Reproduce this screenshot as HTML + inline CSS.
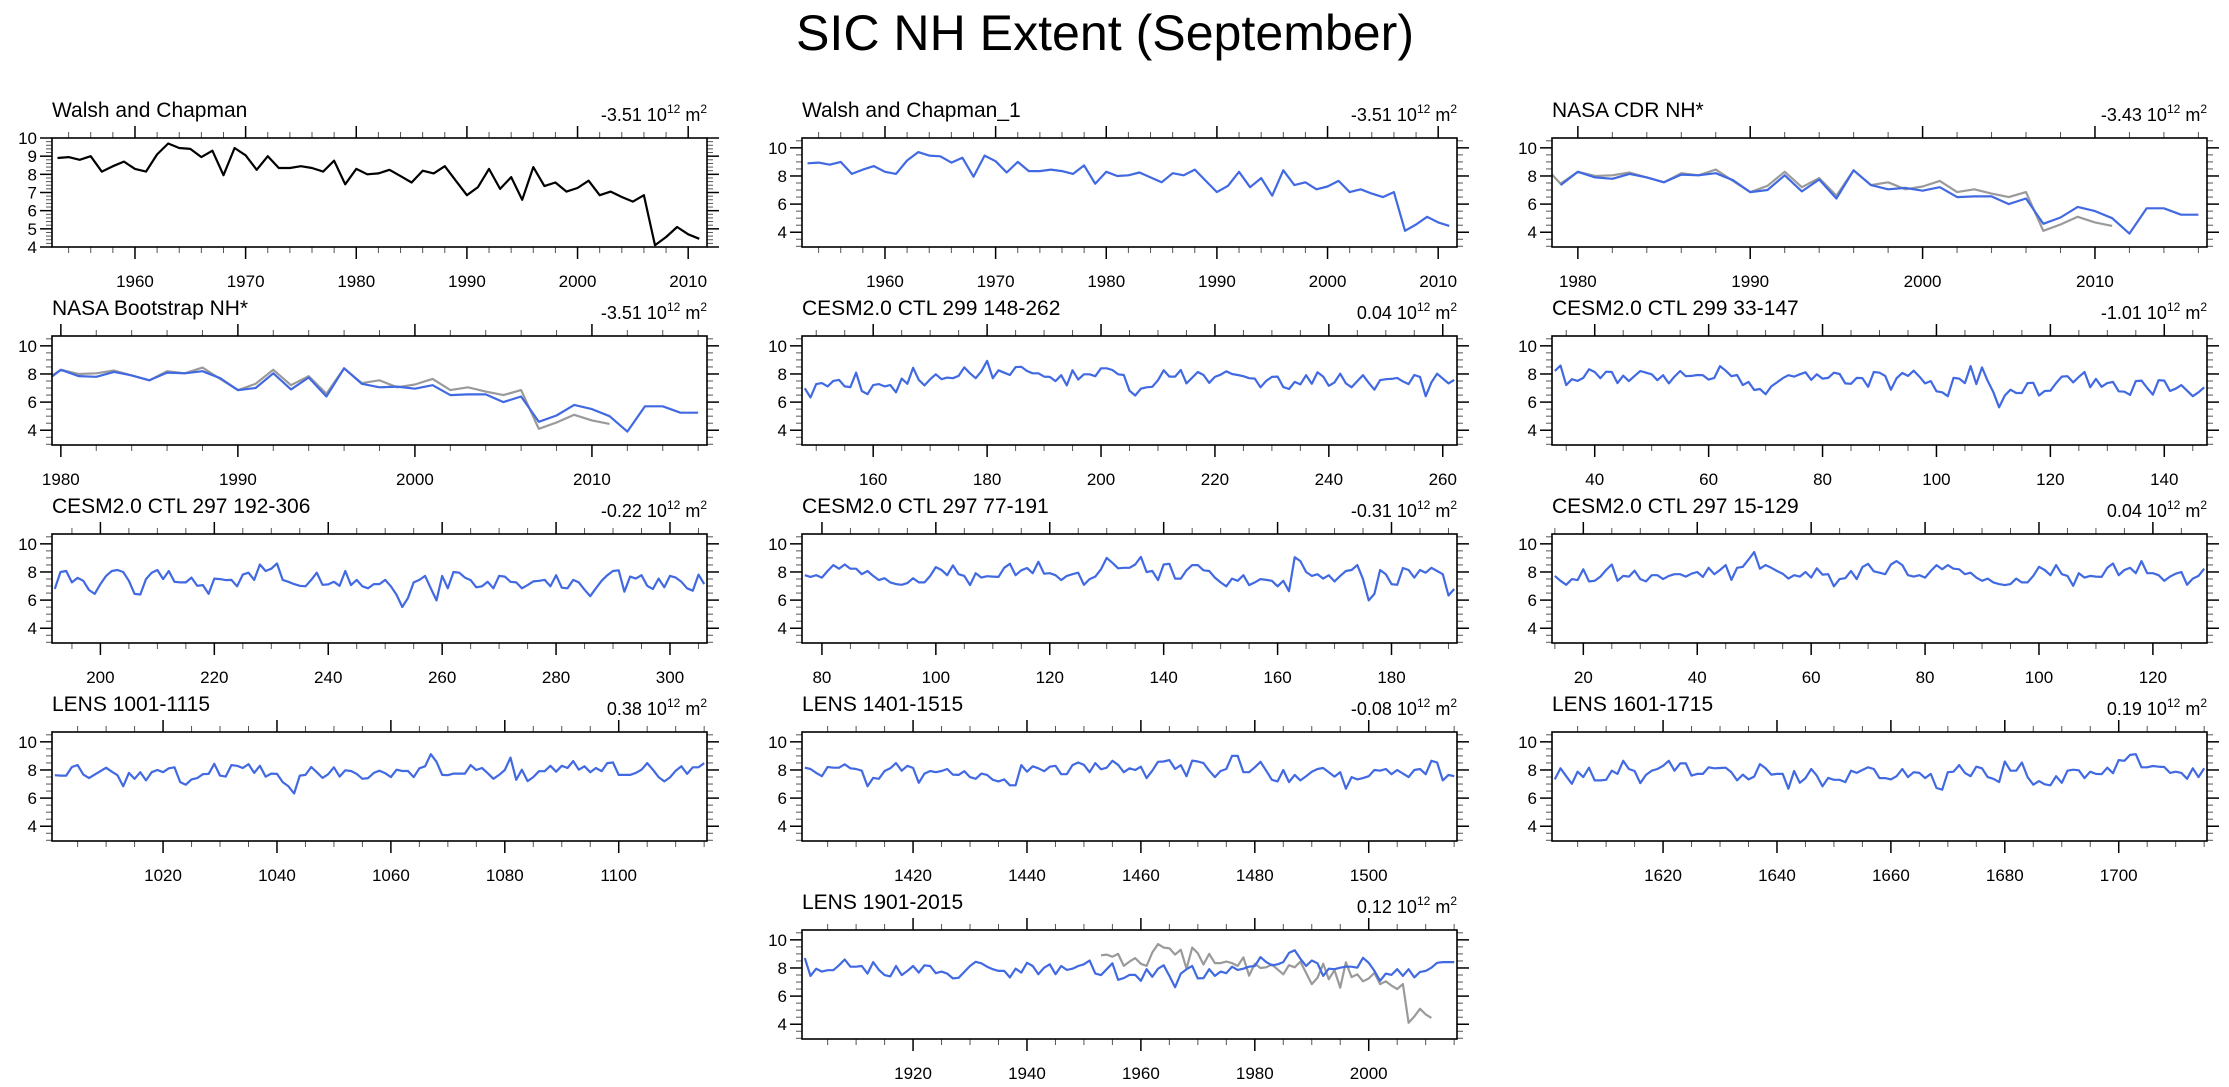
<!DOCTYPE html>
<html><head><meta charset="utf-8"><title>SIC NH Extent (September)</title>
<style>html,body{margin:0;padding:0;background:#fff}svg{display:block;font-family:"Liberation Sans",Arial,sans-serif}</style>
</head><body>
<svg id="chart" xmlns="http://www.w3.org/2000/svg" width="2229" height="1087" viewBox="0 0 2229 1087">
<rect width="2229" height="1087" fill="#fff"/>
<text x="1105" y="50" text-anchor="middle" font-size="50" textLength="618" lengthAdjust="spacingAndGlyphs">SIC NH Extent (September)</text>
</svg>
<script>
const walshYears = [1953, 2011];
const walsh = [8.9,8.95,8.8,9.0,8.15,8.45,8.7,8.3,8.15,9.1,9.7,9.45,9.4,8.95,9.3,7.95,9.45,9.05,8.25,9.0,8.35,8.35,8.45,8.35,8.15,8.75,7.45,8.3,8.0,8.05,8.25,7.9,7.55,8.2,8.05,8.45,7.65,6.85,7.3,8.3,7.2,7.85,6.6,8.4,7.35,7.55,7.05,7.25,7.65,6.85,7.05,6.75,6.5,6.85,4.1,4.55,5.1,4.7,4.45];
const cdr = [7.35,8.3,7.9,7.8,8.15,7.9,7.55,8.1,8.05,8.2,7.7,6.85,7.0,8.05,6.9,7.75,6.4,8.4,7.35,7.05,7.15,6.95,7.2,6.5,6.55,6.55,6.0,6.4,4.6,5.05,5.8,5.5,5.0,3.9,5.7,5.7,5.25,5.25];
const bootstrap = [7.35,8.3,7.85,7.8,8.15,7.9,7.55,8.1,8.05,8.2,7.7,6.85,7.0,8.05,6.9,7.75,6.4,8.4,7.3,7.05,7.1,6.95,7.2,6.5,6.55,6.55,6.0,6.4,4.6,5.05,5.8,5.5,5.0,3.9,5.7,5.7,5.25,5.25];
const cesm299a = [6.98,6.33,7.28,7.35,7.12,7.51,7.58,7.12,7.07,8.09,6.79,6.56,7.21,7.28,7.12,7.21,6.7,7.67,7.3,8.44,7.58,7.19,7.63,7.98,7.63,7.74,7.7,7.86,8.47,8.05,7.7,8.19,8.93,7.7,8.26,8.09,7.93,8.49,8.51,8.21,8.05,8.05,7.81,7.79,7.49,7.91,7.19,8.26,7.6,7.98,7.98,7.84,8.4,8.4,8.28,7.98,7.93,6.81,6.47,6.95,7.05,7.09,7.56,8.26,7.81,7.81,8.28,7.33,7.74,8.14,7.93,7.37,7.79,7.95,8.19,8.0,7.93,7.84,7.7,7.67,7.05,7.51,7.79,7.81,7.07,6.93,7.44,7.26,7.91,7.3,8.12,7.81,7.16,7.4,8.02,7.33,7.05,7.49,7.91,7.37,6.88,7.56,7.63,7.65,7.72,7.47,7.28,7.93,7.79,6.42,7.4,8.02,7.67,7.33,7.58];
const cesm299b = [8.21,8.6,7.21,7.63,7.51,7.72,8.33,8.14,7.7,8.16,8.14,7.35,7.88,7.49,7.86,8.21,8.09,7.98,7.56,7.91,7.33,7.81,8.21,7.84,7.86,7.93,7.91,7.6,7.72,8.56,8.23,7.84,7.93,7.21,7.44,6.86,6.93,6.56,7.12,7.4,7.7,7.91,7.81,7.98,8.12,7.58,7.98,7.67,7.72,8.09,8.0,7.33,7.3,7.72,7.7,7.09,8.14,8.09,7.86,6.88,7.7,8.07,7.86,8.23,7.81,7.33,7.49,6.77,6.7,6.42,7.72,7.67,7.35,8.56,7.28,8.47,7.51,6.7,5.63,6.47,6.88,6.65,6.65,7.35,7.37,6.47,6.79,6.81,7.35,7.81,7.84,7.4,7.79,8.14,7.05,7.65,7.09,7.35,7.44,6.77,6.74,6.51,7.49,7.53,7.0,6.53,7.56,7.53,6.79,6.95,7.21,6.81,6.42,6.7,7.05];
const cesm297a = [6.8,8.0,8.07,7.26,7.58,7.37,6.72,6.44,7.14,7.72,8.07,8.14,8.0,7.37,6.44,6.4,7.49,7.95,8.14,7.49,8.07,7.3,7.26,7.26,7.6,7.02,7.07,6.44,7.53,7.49,7.42,7.44,6.98,7.81,7.95,7.44,8.53,8.07,8.23,8.6,7.44,7.3,7.14,7.02,6.98,7.44,7.95,7.09,7.12,7.3,7.02,8.07,7.07,7.44,6.98,6.84,7.14,7.14,7.44,6.98,6.37,5.51,6.16,7.26,7.44,7.72,6.84,5.98,7.72,6.84,8.0,7.95,7.6,7.42,6.91,6.98,7.3,6.84,7.72,7.67,7.3,7.26,6.84,7.07,7.33,7.37,7.44,6.98,7.77,6.88,6.84,7.44,7.26,6.74,6.28,6.84,7.37,7.77,8.07,8.12,6.6,7.67,7.53,7.77,7.02,6.79,7.53,6.91,7.72,7.6,7.3,6.84,6.67,7.81,7.14];
const cesm297b = [7.77,7.65,7.77,7.6,8.07,8.49,8.23,8.53,8.23,8.23,7.84,8.07,7.72,7.42,7.56,7.26,7.14,7.09,7.21,7.56,7.26,7.26,7.72,8.35,8.14,7.77,8.47,7.84,7.72,7.07,7.91,7.6,7.7,7.67,7.65,8.3,8.58,7.77,8.12,8.28,7.91,8.72,7.88,7.91,7.77,7.42,7.72,7.84,7.95,7.09,7.49,7.67,8.19,9.0,8.65,8.26,8.3,8.3,8.53,9.07,8.0,8.07,7.42,8.53,8.58,7.53,7.53,8.12,8.49,8.49,8.12,8.07,7.6,7.26,6.98,7.53,7.37,7.77,7.07,7.26,7.49,7.44,7.37,6.98,7.37,6.63,9.05,8.77,8.0,7.72,7.84,7.53,7.77,7.33,7.72,8.07,8.14,8.49,7.49,5.98,6.44,8.14,7.84,7.14,7.09,8.28,8.14,7.6,8.14,7.95,8.3,8.07,7.84,6.33,6.79];
const cesm297c = [7.72,7.37,7.09,7.49,7.42,8.19,7.33,7.37,7.67,8.14,8.53,7.37,7.72,7.67,8.09,7.49,7.33,7.77,7.77,7.49,7.72,7.84,7.84,7.67,7.88,8.0,7.65,8.3,7.84,8.14,8.49,7.44,8.3,8.37,8.88,9.42,8.23,8.49,8.3,8.07,7.88,7.53,7.77,7.67,8.0,7.6,8.26,7.81,7.84,6.98,7.49,7.56,8.07,7.49,8.35,8.58,8.05,7.95,7.84,8.53,8.77,8.49,7.77,7.67,7.77,7.6,8.07,8.49,8.19,8.49,8.23,8.19,7.84,7.95,7.6,7.37,7.53,7.26,7.14,7.07,7.14,7.53,7.26,7.26,7.72,8.37,8.14,7.77,8.49,7.84,7.72,7.02,7.91,7.6,7.72,7.67,7.65,8.3,8.6,7.77,8.14,8.3,7.91,8.77,7.91,7.91,7.77,7.37,7.67,7.88,8.0,7.09,7.53,7.72,8.23];
const lens1001 = [7.63,7.6,7.6,8.21,8.35,7.67,7.42,7.67,7.91,8.16,7.88,7.63,6.84,7.79,7.37,7.84,7.26,7.84,8.0,7.84,8.12,8.19,7.14,6.95,7.33,7.42,7.7,7.72,8.44,7.6,7.53,8.35,8.3,8.14,8.42,7.79,8.3,7.53,7.74,7.72,7.14,6.84,6.33,7.6,7.65,8.21,7.84,7.44,7.7,8.19,7.53,7.98,7.93,7.72,7.37,7.42,7.79,7.95,7.77,7.49,8.02,7.93,7.93,7.49,8.12,8.26,9.12,8.58,7.65,7.63,7.74,7.74,7.74,8.35,8.0,8.14,7.77,7.37,7.65,8.0,8.88,7.3,8.02,7.21,7.49,7.91,7.91,8.3,7.88,8.3,8.14,8.63,8.02,8.26,7.84,8.14,7.91,8.49,8.53,7.65,7.65,7.65,7.79,8.02,8.49,8.02,7.49,7.19,7.47,7.95,8.26,7.72,8.19,8.19,8.49];
const lens1401 = [8.16,8.07,7.79,7.56,8.21,8.16,8.16,8.4,8.12,8.07,7.95,6.84,7.44,7.37,7.93,8.12,8.49,7.95,8.3,8.14,7.09,7.74,7.93,7.84,7.93,8.07,7.67,7.65,7.91,7.49,7.37,7.74,7.65,7.3,7.19,7.33,6.91,6.91,8.35,7.88,8.26,8.12,7.91,8.23,8.3,7.7,7.7,8.35,8.53,8.37,7.84,8.49,8.05,8.16,8.65,8.37,7.84,8.12,8.0,8.23,7.42,7.95,8.58,8.6,8.7,8.07,8.35,7.56,8.67,8.6,8.49,7.95,7.49,7.93,8.07,9.0,9.0,7.84,7.84,8.19,8.58,7.95,7.3,7.19,8.0,7.14,7.65,7.26,7.56,7.88,8.07,8.14,7.84,7.53,7.84,6.67,7.49,7.33,7.42,7.56,8.0,7.95,8.07,7.7,8.0,7.74,7.49,8.0,8.07,7.7,8.65,8.53,7.26,7.65,7.56];
const lens1601 = [7.33,8.12,7.56,7.02,7.88,7.49,8.16,7.26,7.26,7.3,7.95,7.72,8.65,8.07,7.93,7.07,7.65,7.95,8.07,8.3,8.65,7.95,8.47,8.47,7.6,7.72,7.72,8.19,8.12,8.14,8.16,7.84,7.26,7.67,7.33,7.53,8.42,8.12,7.67,7.72,7.72,6.67,7.93,7.09,7.42,8.07,7.6,6.84,7.44,7.3,7.3,7.14,7.95,7.79,8.0,8.19,8.07,7.42,7.42,7.33,7.56,8.07,7.49,7.84,7.79,7.42,7.72,6.72,6.6,7.84,7.88,8.35,7.79,7.56,8.23,8.12,7.49,7.37,7.14,8.6,7.95,7.95,8.53,7.49,6.95,7.21,6.98,6.91,7.56,7.09,7.95,8.02,7.98,7.42,7.88,7.72,7.7,8.16,7.77,8.7,8.65,9.07,9.12,8.19,8.19,8.28,8.23,8.21,7.79,7.88,7.79,7.37,8.12,7.49,8.12];
const lens1901 = [8.7,7.44,7.95,7.74,7.84,7.84,8.19,8.6,8.09,8.09,8.14,7.6,8.42,7.86,7.49,7.4,8.14,7.49,7.79,8.14,7.67,8.19,8.14,7.63,7.74,7.6,7.26,7.3,7.72,8.14,8.44,8.33,8.09,7.91,7.79,7.79,7.33,7.95,7.67,8.37,8.14,7.56,8.02,8.26,7.56,8.14,7.86,7.95,8.14,8.26,8.53,7.6,7.49,7.91,8.33,7.16,7.28,7.51,7.51,7.09,7.91,7.37,7.95,8.19,7.44,6.63,7.6,7.91,8.14,7.26,7.28,7.91,7.44,7.74,7.63,8.09,7.86,7.95,8.09,8.14,8.77,8.42,8.19,8.26,8.42,9.07,9.26,8.65,8.14,8.53,8.33,7.44,7.95,7.91,8.02,8.09,8.09,8.02,8.72,8.37,7.79,7.09,7.6,7.51,7.91,7.44,7.91,7.33,7.72,7.79,8.02,8.37,8.42,8.42,8.42];
const panelTitles = ["Walsh and Chapman","Walsh and Chapman_1","NASA CDR NH*","NASA Bootstrap NH*","CESM2.0 CTL 299 148-262","CESM2.0 CTL 299 33-147","CESM2.0 CTL 297 192-306","CESM2.0 CTL 297 77-191","CESM2.0 CTL 297 15-129","LENS 1001-1115","LENS 1401-1515","LENS 1601-1715","LENS 1901-2015"];
const trendValues = ["-3.51","-3.51","-3.43","-3.51","0.04","-1.01","-0.22","-0.31","0.04","0.38","-0.08","0.19","0.12"];
const seriesStart = [1953,1953,1979,1979,148,33,192,77,15,1001,1401,1601,1901];

const NS = "http://www.w3.org/2000/svg";
const svg = document.getElementById("chart");
function mk(tag, attrs, parent) {
  const e = document.createElementNS(NS, tag);
  for (const k in attrs) e.setAttribute(k, attrs[k]);
  (parent || svg).appendChild(e);
  return e;
}
const colX = [52, 802, 1552], rowY = [138, 336, 534, 732, 930];
const W = 655, H = 109;
const cfg = [
  {r:0,c:0,s:walsh,col:"#000",xr:[1952.5,2011.7],ax:1,maj:10,min:2},
  {r:0,c:1,s:walsh,col:"#4169e1",xr:[1952.5,2011.7],maj:10,min:2},
  {r:0,c:2,s:cdr,col:"#4169e1",xr:[1978.5,2016.5],gray:1,maj:10,min:2},
  {r:1,c:0,s:bootstrap,col:"#4169e1",xr:[1979.5,2016.5],gray:1,maj:10,min:2},
  {r:1,c:1,s:cesm299a,col:"#4169e1",maj:20,min:5},
  {r:1,c:2,s:cesm299b,col:"#4169e1",maj:20,min:5},
  {r:2,c:0,s:cesm297a,col:"#4169e1",maj:20,min:5},
  {r:2,c:1,s:cesm297b,col:"#4169e1",maj:20,min:5},
  {r:2,c:2,s:cesm297c,col:"#4169e1",maj:20,min:5},
  {r:3,c:0,s:lens1001,col:"#4169e1",maj:20,min:5},
  {r:3,c:1,s:lens1401,col:"#4169e1",maj:20,min:5},
  {r:3,c:2,s:lens1601,col:"#4169e1",maj:20,min:5},
  {r:4,c:1,s:lens1901,col:"#4169e1",gray:1,maj:20,min:5}
];
cfg.forEach(function(p, i) {
  const x0 = colX[p.c], y0 = rowY[p.r];
  const start = seriesStart[i];
  const xr = p.xr || [start - 0.5, start + p.s.length - 0.5];
  const yr = p.ax ? [4, 10] : [2.95, 10.7];
  const sx = function(v){ return x0 + (v - xr[0]) / (xr[1] - xr[0]) * W; };
  const sy = function(v){ return y0 + H - (v - yr[0]) / (yr[1] - yr[0]) * H; };
  const g = mk("g", {});
  
  
  const cp = mk("clipPath", {id: "cp" + i}, g);
  mk("rect", {x: x0, y: y0, width: W, height: H}, cp);
  const t = mk("text", {x: x0, y: y0 - 21, "font-size": 21}, g);
  t.textContent = panelTitles[i];
  
  
  const tr = mk("text", {x: x0 + W, y: y0 - 17, "font-size": 18, "text-anchor": "end"}, g);
  
  
  const a = mk("tspan", {}, tr); a.textContent = trendValues[i] + " 10";
  const b = mk("tspan", {dy: -8, "font-size": 12}, tr); b.textContent = "12";
  const c = mk("tspan", {dy: 8}, tr); c.textContent = " m";
  const d = mk("tspan", {dy: -8, "font-size": 12}, tr); d.textContent = "2";
  const yMinStep = p.ax ? 0.2 : 0.5, yMaj = p.ax ? 1 : 2;
  for (let v = Math.ceil(yr[0] / yMinStep) * yMinStep; v <= yr[1] + 1e-6; v += yMinStep) {
    const vv = Math.round(v * 10) / 10;
    const isMaj = Math.abs(vv / yMaj - Math.round(vv / yMaj)) < 1e-6 && vv >= 4;
    const L = isMaj ? 12 : 6, y = sy(vv);
    mk("line", {x1: x0 - L, x2: x0, y1: y, y2: y, stroke: isMaj ? "#000" : "#555", "stroke-width": isMaj ? 1.5 : 1}, g);
    mk("line", {x1: x0 + W, x2: x0 + W + L, y1: y, y2: y, stroke: isMaj ? "#000" : "#555", "stroke-width": isMaj ? 1.5 : 1}, g);
    if (isMaj) {
      const yl = mk("text", {x: x0 - 15, y: y + 6, "font-size": 17, "text-anchor": "end"}, g);
      yl.textContent = String(vv);
      
      
    }
  }
  for (let v = Math.ceil(xr[0] / p.min) * p.min; v <= xr[1]; v += p.min) {
    const isMaj = v % p.maj === 0, L = isMaj ? 12 : 6, x = sx(v);
    mk("line", {x1: x, x2: x, y1: y0 - L, y2: y0, stroke: isMaj ? "#000" : "#555", "stroke-width": isMaj ? 1.5 : 1}, g);
    mk("line", {x1: x, x2: x, y1: y0 + H, y2: y0 + H + L, stroke: isMaj ? "#000" : "#555", "stroke-width": isMaj ? 1.5 : 1}, g);
    if (isMaj) {
      const xl = mk("text", {x: x, y: y0 + H + 40, "font-size": 17, "text-anchor": "middle"}, g);
      xl.textContent = String(v);
      
      
    }
  }
  const lg = mk("g", {"clip-path": "url(#cp" + i + ")"}, g);
  if (p.gray) {
    const gp = walsh.map(function(v, k){ return sx(walshYears[0] + k).toFixed(1) + "," + sy(v).toFixed(1); }).join(" ");
    const gl = mk("polyline", {points: gp, fill: "none", stroke: "#9a9a9a", "stroke-width": 2.2, "stroke-linejoin": "round"}, lg);
    
    
  }
  const pts = p.s.map(function(v, k){ return sx(start + k).toFixed(1) + "," + sy(v).toFixed(1); }).join(" ");
  const pl = mk("polyline", {points: pts, fill: "none", stroke: p.col, "stroke-width": 2.2, "stroke-linejoin": "round"}, lg);
  
  
  const box = mk("rect", {x: x0, y: y0, width: W, height: H, fill: "none", stroke: "#000", "stroke-width": 1.6}, g);
  
  
});
</script>
</body></html>
